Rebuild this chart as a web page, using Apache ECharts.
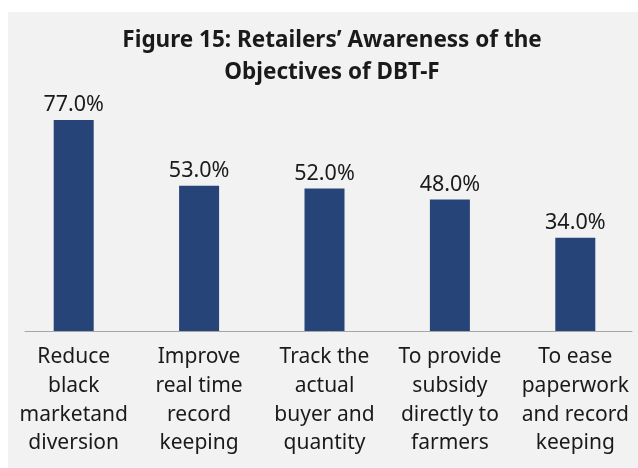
<!DOCTYPE html>
<html>
<head>
    <meta charset="UTF-8">
    <title>Figure 15</title>
    <script src="https://cdn.jsdelivr.net/npm/echarts/dist/echarts.min.js"></script>
    <style>
        html, body { margin: 0; padding: 0; background: #ffffff; }
        #main { width: 638px; height: 468px; }
    </style>
</head>
<body>
    <div id="main"></div>
    <script>
        // chart data
        const categories = [
            'Reduce\nblack\nmarketand\ndiversion',
            'Improve\nreal time\nrecord\nkeeping',
            'Track the\nactual\nbuyer and\nquantity',
            'To provide\nsubsidy\ndirectly to\nfarmers',
            'To ease\npaperwork\nand record\nkeeping'
        ];
        const values = [77.0, 53.0, 52.0, 48.0, 34.0];

        const barColor = '#264478';
        const fontFamily = '"Noto Sans", sans-serif';

        const chart = echarts.init(document.getElementById('main'));
        const option = {
            backgroundColor: '#ffffff',
            animation: false,
            graphic: [{
                type: 'rect',
                z: -10,
                shape: { x: 8, y: 12, width: 630, height: 456 },
                style: { fill: '#f2f2f2' }
            }],
            title: {
                text: 'Figure 15: Retailers\u2019 Awareness of the\nObjectives of DBT-F',
                left: 327,
                textAlign: 'center',
                top: 20,
                textStyle: {
                    fontFamily: fontFamily,
                    fontSize: 22.5,
                    fontWeight: 'bold',
                    color: '#1a1a1a',
                    lineHeight: 31.5
                }
            },
            grid: [
                { left: 11, width: 632, top: 57, bottom: 137 },   // bars + labels
                { left: 25, right: 6, top: 57, bottom: 137 }      // axis line only
            ],
            xAxis: [{
                type: 'category',
                data: categories,
                axisLine: { show: false },
                axisTick: { show: false },
                axisLabel: {
                    interval: 0,
                    margin: 12,
                    fontFamily: fontFamily,
                    fontSize: 21,
                    lineHeight: 28.7,
                    color: '#1a1a1a'
                }
            }, {
                type: 'category',
                gridIndex: 1,
                data: categories,
                axisLine: { lineStyle: { color: '#a6a6a6', width: 1 } },
                axisTick: { show: false },
                axisLabel: { show: false }
            }],
            yAxis: [{
                type: 'value',
                min: 0,
                max: 100,
                show: false
            }, {
                type: 'value',
                gridIndex: 1,
                min: 0,
                max: 100,
                show: false
            }],
            series: [{
                type: 'bar',
                data: values,
                barWidth: 40,
                itemStyle: { color: barColor },
                label: {
                    show: true,
                    position: 'top',
                    distance: 4,
                    fontFamily: fontFamily,
                    fontSize: 21.5,
                    color: '#1a1a1a',
                    formatter: p => p.value.toFixed(1) + '%'
                }
            }]
        };
        chart.setOption(option);
    </script>
</body>
</html>
